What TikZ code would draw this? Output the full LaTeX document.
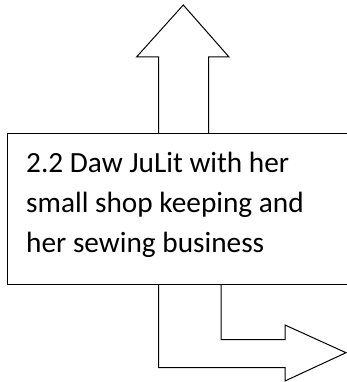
\documentclass[tikz,border=0pt]{standalone}
\usepackage{fontspec}
\setmainfont{Carlito}
\begin{document}
\begin{tikzpicture}[x=1pt,y=-1pt,
  outline/.style={draw=black,line width=1pt,line join=miter},
  blockarrow/.style={draw=black,line width=1pt,line join=miter,fill=white},
  label/.style={font=\fontsize{29.3}{39.8}\selectfont,align=left,inner sep=0pt,anchor=north west}]
\useasboundingbox (0,0) rectangle (346,382);
% upward block arrow above the box
\draw[blockarrow] (158.5,133) -- (158.5,57) -- (136.5,57) -- (183.3,5)
  -- (229,57) -- (208.5,57) -- (208.5,133);
% bent block arrow below the box, turning right
\draw[blockarrow] (158.5,284) -- (158.5,367.5) -- (285,367.5) -- (285,381)
  -- (346,352.7) -- (285,325) -- (285,339.5) -- (221,339.5) -- (221,284);
% the text box, running off the right edge
\node[outline,fill=white,minimum width=353pt,minimum height=151pt,anchor=north west,inner sep=0pt] (box) at (7,133) {};
\node[label] (txt) at (26,152) {2.2 Daw JuLit with her\\small shop keeping and\\her sewing business};
\end{tikzpicture}
\end{document}
